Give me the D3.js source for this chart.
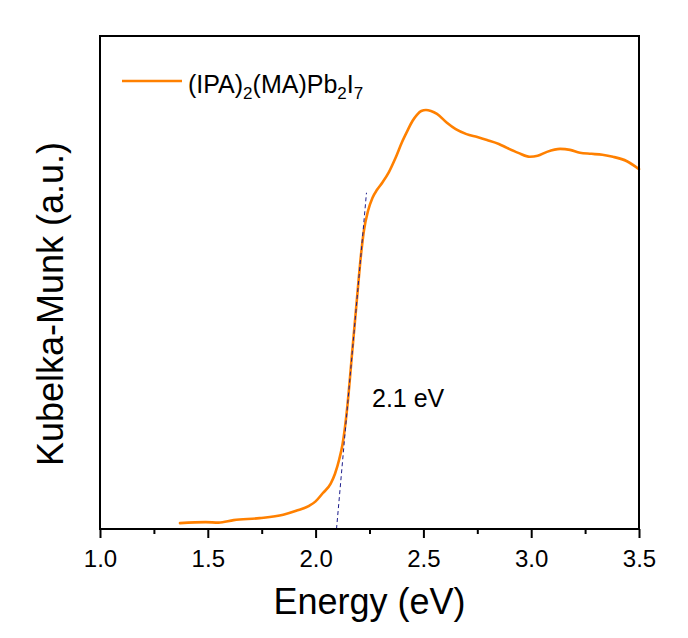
<!DOCTYPE html>
<html>
<head>
<meta charset="utf-8">
<script src="https://cdn.jsdelivr.net/npm/d3@7/dist/d3.min.js"></script>
<style>
  html, body { margin: 0; padding: 0; background: #fff; }
  svg { display: block; font-family: "Liberation Sans", Arial, sans-serif; }
</style>
</head>
<body>
<svg id="chart" width="688" height="638"></svg>
<script>
// Data
const energy = [1.371, 1.49, 1.55, 1.62, 1.74, 1.85, 1.91, 1.97, 2.0, 2.034, 2.07, 2.09, 2.11, 2.125, 2.148, 2.169, 2.19, 2.211, 2.224, 2.243, 2.264, 2.285, 2.31, 2.34, 2.37, 2.40, 2.424, 2.45, 2.47, 2.49, 2.512, 2.535, 2.563, 2.609, 2.65, 2.70, 2.75, 2.795, 2.85, 2.888, 2.94, 2.994, 3.03, 3.073, 3.134, 3.18, 3.226, 3.28, 3.33, 3.379, 3.444, 3.5];
const km = [0.012, 0.014, 0.013, 0.018, 0.022, 0.029, 0.037, 0.047, 0.056, 0.073, 0.092, 0.112, 0.142, 0.172, 0.252, 0.355, 0.458, 0.558, 0.605, 0.645, 0.672, 0.688, 0.703, 0.724, 0.752, 0.784, 0.806, 0.828, 0.840, 0.848, 0.850, 0.848, 0.842, 0.824, 0.811, 0.801, 0.795, 0.789, 0.781, 0.773, 0.763, 0.755, 0.757, 0.765, 0.771, 0.769, 0.763, 0.761, 0.759, 0.755, 0.746, 0.730];
const tangentE = [2.097, 2.236];
const tangentKM = [0.0, 0.682];
const majorTicks = [1.0, 1.5, 2.0, 2.5, 3.0, 3.5];
const minorTicks = [1.25, 1.75, 2.25, 2.75, 3.25];
const tickLabels = ["1.0", "1.5", "2.0", "2.5", "3.0", "3.5"];

const svg = d3.select("#chart");
const L = 100, R = 639, T = 36, B = 529;

const x = d3.scaleLinear().domain([1.0, 3.5]).range([L, R]);
const y = d3.scaleLinear().domain([0, 1]).range([B, T]);

// curve
const line = d3.line().x((d, i) => x(energy[i])).y((d, i) => y(km[i])).curve(d3.curveMonotoneX);
svg.append("path")
  .datum(km)
  .attr("d", line)
  .attr("fill", "none")
  .attr("stroke", "#ff8000")
  .attr("stroke-width", 2.6)
  .attr("stroke-linejoin", "round")
  .attr("stroke-linecap", "round");

// tangent line
svg.append("line")
  .attr("x1", x(tangentE[0])).attr("y1", y(tangentKM[0]))
  .attr("x2", x(tangentE[1])).attr("y2", y(tangentKM[1]))
  .attr("stroke", "#1c1c8c")
  .attr("stroke-width", 1)
  .attr("stroke-dasharray", "4,3");

// frame
svg.append("rect")
  .attr("x", L).attr("y", T).attr("width", R - L).attr("height", B - T)
  .attr("fill", "none").attr("stroke", "#000").attr("stroke-width", 2);

// axes
const ax = svg.append("g").attr("transform", `translate(0,${B})`)
  .call(d3.axisBottom(x).tickValues(majorTicks).tickSize(9).tickPadding(12)
    .tickFormat((d, i) => tickLabels[i]));
ax.select(".domain").remove();
ax.selectAll(".tick line").attr("stroke", "#000").attr("stroke-width", 2);
ax.selectAll(".tick text").attr("font-size", 24).attr("fill", "#000")
  .attr("font-family", "'Liberation Sans', Arial, sans-serif");

const axm = svg.append("g").attr("transform", `translate(0,${B})`)
  .call(d3.axisBottom(x).tickValues(minorTicks).tickSize(5).tickFormat(""));
axm.select(".domain").remove();
axm.selectAll(".tick line").attr("stroke", "#000").attr("stroke-width", 2);

// axis titles
svg.append("text")
  .attr("x", (L + R) / 2).attr("y", 614)
  .attr("text-anchor", "middle").attr("font-size", 36).attr("fill", "#000")
  .text("Energy (eV)");

svg.append("text")
  .attr("transform", "translate(63,304) rotate(-90)")
  .attr("text-anchor", "middle").attr("font-size", 36).attr("fill", "#000")
  .text("Kubelka-Munk (a.u.)");

// annotation
svg.append("text")
  .attr("x", 372).attr("y", 407)
  .attr("font-size", 25).attr("fill", "#000")
  .text("2.1 eV");

// legend
svg.append("line")
  .attr("x1", 122).attr("x2", 182).attr("y1", 81).attr("y2", 81)
  .attr("stroke", "#ff8000").attr("stroke-width", 2.6);

const lt = svg.append("text").attr("x", 188).attr("y", 93).attr("font-size", 25).attr("fill", "#000");
const parts = [["(IPA)", 0], ["2", 1], ["(MA)Pb", 0], ["2", 1], ["I", 0], ["7", 1]];
let shifted = false;
parts.forEach(([t, sub]) => {
  const ts = lt.append("tspan").text(t);
  if (sub) { ts.attr("font-size", 17).attr("dy", shifted ? 0 : 6); shifted = true; }
  else { ts.attr("dy", shifted ? -6 : 0); shifted = false; }
});
</script>
</body>
</html>
